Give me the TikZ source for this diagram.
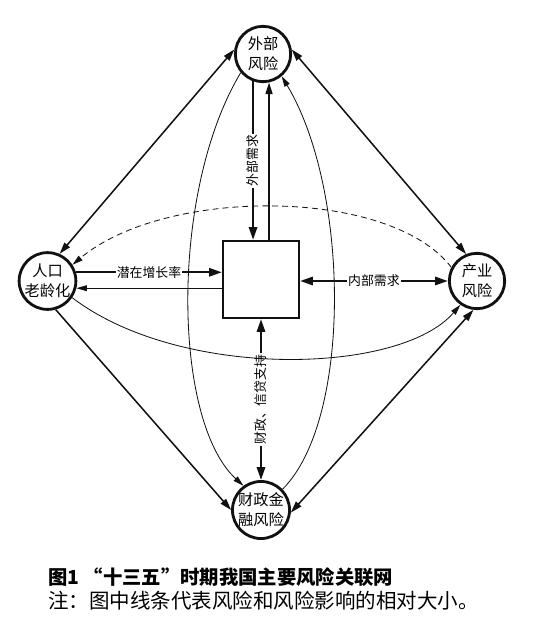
\documentclass[tikz,border=0pt]{standalone}
\usepackage{fontspec}
\newfontfamily\cjk{Noto Sans CJK SC}
\usetikzlibrary{arrows.meta,calc}
\definecolor{riskink}{HTML}{111111}
\tikzset{
  riskcircle/.style={circle,draw=riskink,line width=2.4pt,minimum size=1.66cm,inner sep=0pt,
    align=center,font=\cjk\fontsize{13}{17}\selectfont},
  centerbox/.style={draw=riskink,line width=1.8pt,minimum width=2.28cm,minimum height=2.31cm,inner sep=0pt},
  edgelabel/.style={fill=white,inner sep=1pt,font=\cjk\fontsize{11}{13}\selectfont},
  heavy/.style={draw=riskink,line width=2pt,>={Triangle[length=11pt,width=7pt]}},
  medium/.style={draw=riskink,line width=1.3pt,>={Triangle[length=10pt,width=6pt]}},
  light/.style={draw=riskink,line width=0.7pt,>={Triangle[length=9pt,width=5pt]}},
}
\begin{document}
\begin{tikzpicture}[x=0.03cm,y=-0.03cm]
  \useasboundingbox (0,0) rectangle (534,621);
  % risk nodes
  \node[riskcircle] (wb) at (263,54) {外部\\风险};
  \node[riskcircle] (rk) at (47.5,281) {人口\\老龄化};
  \node[riskcircle] (cy) at (477,281) {产业\\风险};
  \node[riskcircle] (cz) at (261,510) {财政金\\融风险};
  \node[centerbox] (box) at (261,279.5) {};

  % outer links
  \draw[medium,<->] (wb.171) -- (rk.66);
  \draw[medium,<->] (wb.9) -- (cy.112);
  \draw[medium,->] (rk.-74) -- (cz.180);
  \draw[medium,<->] (cz.-5) -- (cy.-97);

  % links to the box
  \draw[heavy,->] (wb.-110) -- node[edgelabel,rotate=90] (lwb) {外部需求} (wb.-110 |- box.north);
  \draw[medium,->] (wb.-78 |- box.north) -- (wb.-78);
  \draw[heavy,->] (rk.17) -- node[edgelabel] (lrk) {潜在增长率} (rk.17 -| box.west);
  \draw[light,->] (rk.-14 -| box.west) -- (rk.-14);
  \draw[heavy,<->] (box.east |- cy.west) -- node[edgelabel] (lcy) {内部需求} (cy.west);
  \draw[heavy,<->] (box.south) -- node[edgelabel,rotate=90] (lcz) {财政、信贷支持} (cz.north);

  % curved links
  \draw[light,->] (wb.-140) .. controls (170,190) and (172,420) .. (cz.126);
  \draw[light,->] (cz.44) .. controls (352,420) and (350,190) .. (wb.-50);
  \draw[light,->] (rk.-34) .. controls (180,380) and (400,375) .. (cy.-125);
  \draw[light,dash pattern=on 5pt off 3.5pt,->] (cy.152) .. controls (390,187) and (165,187) .. (rk.33);

  % caption
  \node[anchor=west,inner sep=0pt,font=\cjk\bfseries\fontsize{16.5}{18}\selectfont] (title) at (48,577)
    {图1 “十三五”时期我国主要风险关联网};
  \node[anchor=west,inner sep=0pt,font=\cjk\fontsize{17.5}{19}\selectfont] (note) at (48,601)
    {注：图中线条代表风险和风险影响的相对大小。};
\end{tikzpicture}
\end{document}
